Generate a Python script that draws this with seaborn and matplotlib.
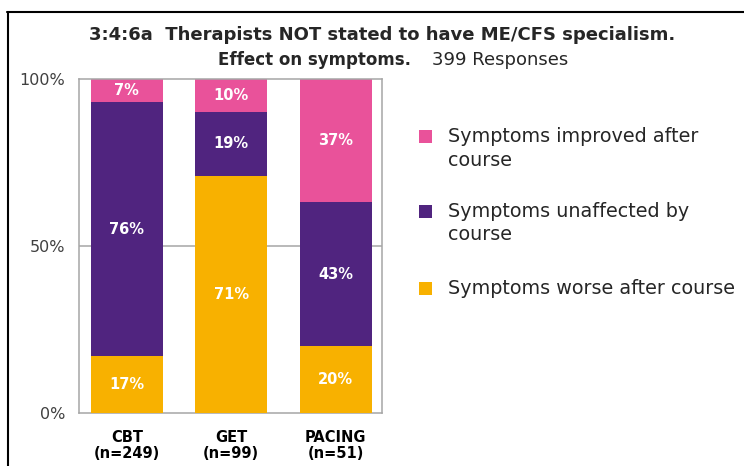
import pandas as pd
import numpy as np
import matplotlib
matplotlib.use('Agg')
import matplotlib.pyplot as plt
import seaborn as sns
from matplotlib.patches import Rectangle
from matplotlib.lines import Line2D

# data (percent of responses)
courses = ['CBT', 'GET', 'PACING']
n_resp = [249, 99, 51]
worse = [17, 71, 20]
unaffected = [76, 19, 43]
improved = [7, 10, 37]

legend_labels = ['Symptoms improved after\ncourse',
                 'Symptoms unaffected by\ncourse',
                 'Symptoms worse after course']
c_improved = '#E9529A'
c_unaffected = '#50247F'
c_worse = '#F8B100'

df = pd.DataFrame({'course': courses, 'worse': worse,
                   'unaffected': unaffected, 'improved': improved})
df['lvl1'] = df['worse'] / 100
df['lvl2'] = (df['worse'] + df['unaffected']) / 100
df['lvl3'] = (df['worse'] + df['unaffected'] + df['improved']) / 100

sns.set_style('white')
plt.rcParams['font.family'] = ['DejaVu Sans']

W, H = 744, 466
fig = plt.figure(figsize=(W / 100, H / 100), dpi=100)
ax = fig.add_axes([0.106, 0.114, 0.407, 0.717])

# stacked bars: draw the totals first, then the lower levels on top
bar_kw = dict(width=0.69, saturation=1, linewidth=0, ax=ax)
sns.barplot(data=df, x='course', y='lvl3', color=c_improved, zorder=2, **bar_kw)
sns.barplot(data=df, x='course', y='lvl2', color=c_unaffected, zorder=3, **bar_kw)
sns.barplot(data=df, x='course', y='lvl1', color=c_worse, zorder=4, **bar_kw)

# percentage labels in the middle of each segment
for i, row in df.iterrows():
    segs = [(0, row['lvl1'], row['worse']),
            (row['lvl1'], row['lvl2'], row['unaffected']),
            (row['lvl2'], row['lvl3'], row['improved'])]
    for lo, hi, v in segs:
        ax.text(i, (lo + hi) / 2, f'{v}%', ha='center', va='center', color='white',
                fontsize=10.5, fontweight='bold', zorder=5)

ax.set_xlim(-0.46, 2.44)
ax.set_ylim(0, 1)
ax.set_yticks([0, 0.5, 1])
ax.set_yticklabels(['0%', '50%', '100%'], fontsize=11.5, color='#404040')
ax.set_xticks(range(len(courses)))
ax.set_xticklabels([f'{c}\n(n={n})' for c, n in zip(courses, n_resp)],
                   fontsize=10.5, fontweight='bold', color='black', linespacing=1.1)
ax.tick_params(axis='y', length=0, pad=10)
ax.tick_params(axis='x', length=0, pad=12)
ax.set_xlabel('')
ax.set_ylabel('')
ax.axhline(0.5, color='#A6A6A6', lw=1.1, zorder=1)
for s in ax.spines.values():
    s.set_visible(True)
    s.set_color('#A6A6A6')
    s.set_linewidth(1.1)

# legend on the right (square marker beside the first text line)
leg_colors = [c_improved, c_unaffected, c_worse]
leg_y = [136, 211, 288]  # pixel rows of the first line of each entry
for col, lab, yy in zip(leg_colors, legend_labels, leg_y):
    fig.add_artist(Rectangle((419 / W, 1 - (yy + 6.5) / H), 13 / W, 13 / H,
                             facecolor=col, edgecolor='none', transform=fig.transFigure))
    fig.text(448 / W, 1 - (yy - 9) / H, lab, ha='left', va='top', fontsize=13.8,
             color='#262626', linespacing=1.3)

# title
fig.text(0.513, 0.925, '3:4:6a  Therapists NOT stated to have ME/CFS specialism.',
         ha='center', va='center', fontsize=13, fontweight='bold')
fig.text(411 / W, 0.872, 'Effect on symptoms.', ha='right', va='center', fontsize=12, fontweight='bold')
fig.text(432 / W, 0.872, '399 Responses', ha='left', va='center', fontsize=13)

# outer frame (top and left edges)
fig.add_artist(Line2D([0.009, 1], [0.974, 0.974], color='black', lw=1.5, transform=fig.transFigure))
fig.add_artist(Line2D([0.011, 0.011], [0, 0.974], color='black', lw=1.5, transform=fig.transFigure))

plt.savefig('out.png', dpi=100)
